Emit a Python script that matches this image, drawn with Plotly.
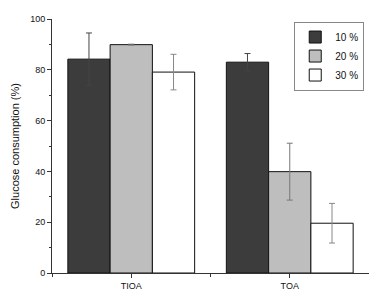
import plotly.graph_objects as go

categories = ["TIOA", "TOA"]
series_names = ["10 %", "20 %", "30 %"]
values_10 = [84.2, 83.0]
values_20 = [89.9, 39.9]
values_30 = [79.1, 19.6]
err_10 = [10.3, 3.4]
err_20 = [0.2, 11.2]
err_30 = [7.0, 7.8]

xpos = list(range(len(categories)))
fills = ["#3c3c3c", "#bebebe", "#ffffff"]
errcols = ["#444444", "#777777", "#888888"]

fig = go.Figure()
for name, vals, errs, fc, ec in zip(series_names, [values_10, values_20, values_30],
                                    [err_10, err_20, err_30], fills, errcols):
    fig.add_trace(go.Bar(
        x=xpos, y=vals, name=name,
        marker=dict(color=fc, line=dict(color="#111111", width=1)),
        error_y=dict(type="data", array=errs, visible=True, color=ec, thickness=1, width=3),
    ))

# page body has an 8px margin; compensate so the plot lands where the reference has it
fig.update_layout(
    width=369, height=286,
    margin=dict(l=44, r=8, t=11, b=21, autoexpand=False),
    barmode="group", bargap=0.2, bargroupgap=0,
    plot_bgcolor="white", paper_bgcolor="white",
    font=dict(family="Liberation Sans, Arial, sans-serif", size=9, color="#111111"),
    legend=dict(x=0.985, y=0.99, xanchor="right", yanchor="top",
                bordercolor="#888888", borderwidth=1, bgcolor="white",
                font=dict(size=10, color="#111111"), tracegroupgap=0),
    showlegend=True,
)
fig.update_xaxes(
    range=[-0.5, 1.5], tickvals=xpos, ticktext=categories,
    showline=True, linecolor="#333333", linewidth=1,
    ticks="outside", ticklen=4, tickcolor="#333333",
    minor=dict(tickmode="array", tickvals=[-0.5, 0.5, 1.5], ticks="outside", ticklen=3, tickcolor="#333333"),
    showgrid=False, zeroline=False, automargin=False,
)
fig.update_yaxes(
    range=[0, 100], tickvals=[0, 20, 40, 60, 80, 100],
    showline=True, linecolor="#333333", linewidth=1,
    ticks="outside", ticklen=4, tickcolor="#333333",
    minor=dict(tickmode="array", tickvals=[10, 30, 50, 70, 90], ticks="outside", ticklen=2, tickcolor="#333333"),
    showgrid=False, zeroline=False, automargin=False,
    title=dict(text="Glucose consumption (%)", font=dict(size=11, color="#111111"), standoff=8),
)

fig.write_html("out.html")
